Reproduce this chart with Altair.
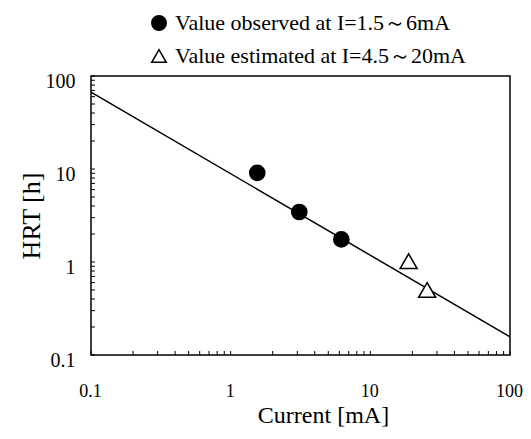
import altair as alt
import pandas as pd

# Data
obs_current = [1.55, 3.1, 6.2]
obs_hrt = [9.1, 3.45, 1.75]
est_current = [18.8, 25.5]
est_hrt = [1.02, 0.5]
fit_current = [0.1, 100]
fit_hrt = [67.0, 0.157]

series_names = ["Value observed at I=1.5～6mA", "Value estimated at I=4.5～20mA"]
major_ticks = [0.1, 1, 10, 100]
minor_ticks = [m * 10.0 ** e for e in (-1, 0, 1) for m in range(2, 10)]

W, H = 419, 279
FONT = "Liberation Serif"

pts = pd.DataFrame({
    "current": obs_current + est_current,
    "hrt": obs_hrt + est_hrt,
    "series": [series_names[0]] * len(obs_current) + [series_names[1]] * len(est_current),
})
fit = pd.DataFrame({"current": fit_current, "hrt": fit_hrt})
ticks_all = pd.DataFrame({"v": major_ticks + minor_ticks})

xscale = alt.Scale(type="log", domain=[0.1, 100], nice=False)
yscale = alt.Scale(type="log", domain=[0.1, 100], nice=False)

xaxis = alt.Axis(values=major_ticks, format="~g", title="Current [mA]", grid=False,
                 ticks=False, domain=False, labelPadding=27, titlePadding=3,
                 labelFontSize=18, titleFontSize=24, labelFont=FONT, titleFont=FONT,
                 labelColor="black", titleColor="black", titleFontWeight="normal",
                 labelFlush=False, labelOffset=-1, titleX=232, titleAlign="center")
yaxis = alt.Axis(values=major_ticks, format="~g", title="HRT [h]", grid=False,
                 ticks=False, domain=False, labelPadding=16, titlePadding=1,
                 labelFontSize=20, titleFontSize=26, labelFont=FONT, titleFont=FONT,
                 labelColor="black", titleColor="black", titleFontWeight="normal",
                 labelOffset=5, labelFlush=False)

legend = alt.Legend(title=None, orient="none", legendX=57, legendY=-64,
                    labelFont=FONT, labelFontSize=22, labelColor="black", labelLimit=0,
                    symbolSize=210, symbolStrokeWidth=1.5,
                    rowPadding=11, labelOffset=5, padding=0)

line = alt.Chart(fit).mark_line(color="black", strokeWidth=1.5, clip=True).encode(
    x=alt.X("current:Q", scale=xscale, axis=xaxis),
    y=alt.Y("hrt:Q", scale=yscale, axis=yaxis),
)

points = alt.Chart(pts).mark_point(filled=False, strokeWidth=1.5, opacity=1).encode(
    x=alt.X("current:Q", scale=xscale),
    y=alt.Y("hrt:Q", scale=yscale),
    shape=alt.Shape("series:N", scale=alt.Scale(domain=series_names, range=["circle", "triangle-up"]),
                    legend=legend),
    fill=alt.Fill("series:N", scale=alt.Scale(domain=series_names, range=["black", "white"]),
                  legend=legend),
    stroke=alt.Stroke("series:N", scale=alt.Scale(domain=series_names, range=["black", "black"]),
                      legend=legend),
    size=alt.condition(alt.datum.series == series_names[0], alt.value(230), alt.value(290)),
)

xticks = alt.Chart(ticks_all).mark_rule(color="black", strokeWidth=1).encode(
    x=alt.X("v:Q", scale=xscale),
    y=alt.value(H),
    y2=alt.value(H - 4),
)
yticks = alt.Chart(ticks_all).mark_rule(color="black", strokeWidth=1).encode(
    y=alt.Y("v:Q", scale=yscale),
    x=alt.value(0),
    x2=alt.value(4),
)

chart = alt.layer(line, xticks, yticks, points).properties(
    width=W, height=H,
    autosize=alt.AutoSizeParams(type="none"),
    padding={"left": 83, "top": 68, "right": 13, "bottom": 76},
    background="white",
).configure_view(stroke="black", strokeWidth=1.5)

chart.save("out.html", embed_options={"renderer": "svg", "actions": False})
